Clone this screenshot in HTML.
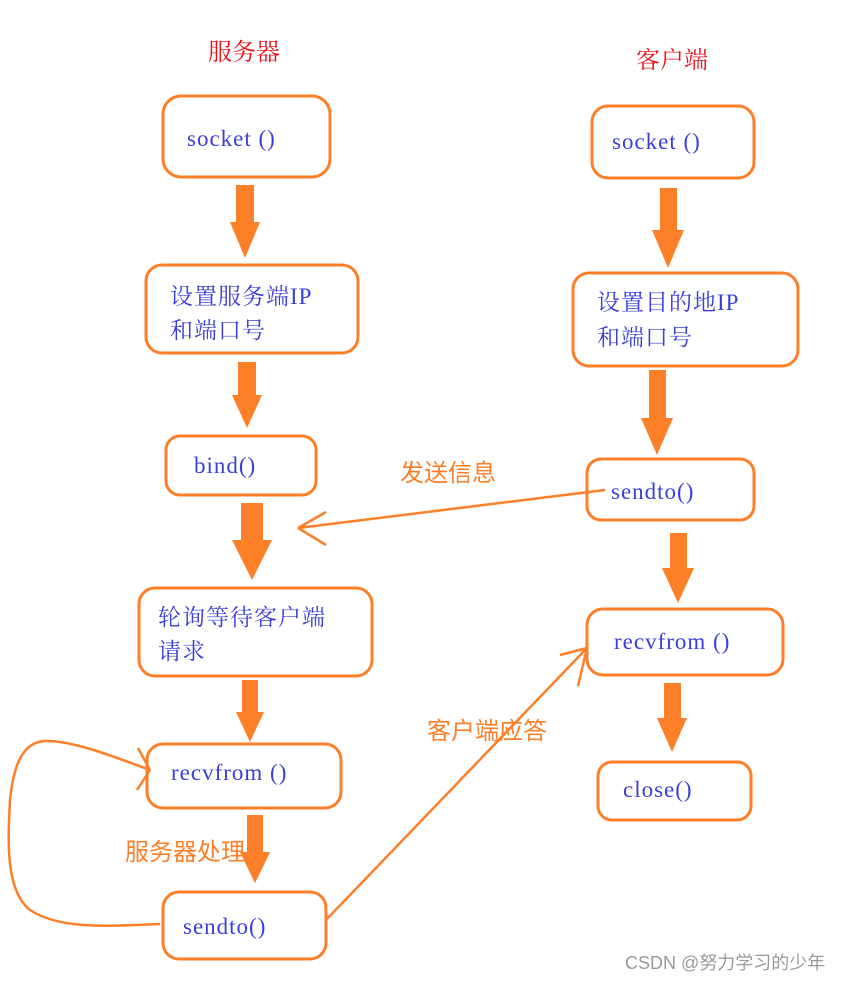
<!DOCTYPE html>
<html><head><meta charset="utf-8"><style>
html,body{margin:0;padding:0;background:#fff;}
svg{display:block;}
.t{font-family:"Liberation Serif","Noto Serif CJK SC",serif;font-size:23px;fill:#3b3fd6;letter-spacing:1px;}
.c{font-family:"Liberation Serif","Noto Serif CJK SC",serif;font-size:23px;fill:#3b3fd6;letter-spacing:1px;}
.r{font-family:"Liberation Sans","Noto Serif CJK SC",serif;font-size:24px;fill:#e8141c;}
.o{font-family:"Liberation Sans","Noto Sans CJK SC",sans-serif;font-size:24px;fill:#fd7f28;}
rect{fill:none;stroke:#fd7f28;stroke-width:3;}
.ln{fill:none;stroke:#fd7f28;stroke-width:2.5;}
.ar{fill:#fd7f28;}
</style></head><body>
<svg width="851" height="981" viewBox="0 0 851 981" xmlns="http://www.w3.org/2000/svg">
<text class="r" x="208" y="60">服务器</text>
<text class="r" x="636" y="68">客户端</text>

<rect x="163" y="96" width="167" height="81" rx="18"/>
<text class="t" x="187" y="146">socket ()</text>
<rect x="146" y="265" width="212" height="88" rx="16"/>
<text class="c" x="170" y="304">设置服务端IP</text>
<text class="c" x="170" y="338">和端口号</text>
<rect x="166" y="436" width="150" height="59" rx="14"/>
<text class="t" x="194" y="473">bind()</text>
<rect x="139" y="588" width="233" height="88" rx="16"/>
<text class="c" x="158" y="625">轮询等待客户端</text>
<text class="c" x="158" y="659">请求</text>
<rect x="147" y="744" width="194" height="64" rx="16"/>
<text class="t" x="171" y="780">recvfrom ()</text>
<rect x="163" y="892" width="163" height="67" rx="16"/>
<text class="t" x="183" y="934">sendto()</text>

<rect x="592" y="106" width="162" height="72" rx="16"/>
<text class="t" x="612" y="149">socket ()</text>
<rect x="573" y="273" width="225" height="93" rx="16"/>
<text class="c" x="597" y="310">设置目的地IP</text>
<text class="c" x="597" y="345">和端口号</text>
<rect x="587" y="459" width="167" height="61" rx="14"/>
<text class="t" x="611" y="499">sendto()</text>
<rect x="587" y="609" width="196" height="66" rx="16"/>
<text class="t" x="614" y="649">recvfrom ()</text>
<rect x="598" y="762" width="153" height="58" rx="14"/>
<text class="t" x="623" y="797">close()</text>

<!-- thick arrows -->
<g class="ar">
<polygon points="236,185 254,185 254,222 260,222 245,258 230,222 236,222"/>
<polygon points="238,362 256,362 256,395 262,395 247,428 232,395 238,395"/>
<polygon points="241,503 263,503 263,540 272,540 252,580 232,540 241,540"/>
<polygon points="242,680 258,680 258,712 264,712 250,742 236,712 242,712"/>
<polygon points="247,815 263,815 263,852 270,852 255,883 240,852 247,852"/>
<polygon points="660,188 677,188 677,230 684,230 668,268 652,230 660,230"/>
<polygon points="649,370 666,370 666,418 673,418 657,455 641,418 649,418"/>
<polygon points="670,533 687,533 687,568 694,568 678,603 662,568 670,568"/>
<polygon points="664,683 681,683 681,718 687,718 672,752 657,718 664,718"/>
</g>

<!-- thin connectors -->
<path class="ln" d="M605,490 L298,528 M298,528 L326,512 M298,528 L326,545"/>
<path class="ln" d="M326,920 L587,648 M587,648 L560,655 M587,648 L578,686"/>
<path class="ln" d="M160,924 C110,926 60,930 30,910 C5,890 8,840 10,800 C14,760 25,742 45,741 C70,740 110,755 150,770 M150,770 L138,748 M150,770 L137,790"/>

<text class="o" x="400" y="481">发送信息</text>
<text class="o" x="427" y="739">客户端应答</text>
<text class="o" x="125" y="860">服务器处理</text>
<polygon class="ar" points="247,852 263,852 263,860 270,860 255,883 240,860 247,860" style="display:none"/>
<polygon class="ar" points="240,852 270,852 255,883"/>
<text x="625" y="969" style="font-family:'Liberation Sans','Noto Sans CJK SC',sans-serif;font-size:18px;fill:#9a9a9a;">CSDN @努力学习的少年</text>
</svg>
</body></html>
